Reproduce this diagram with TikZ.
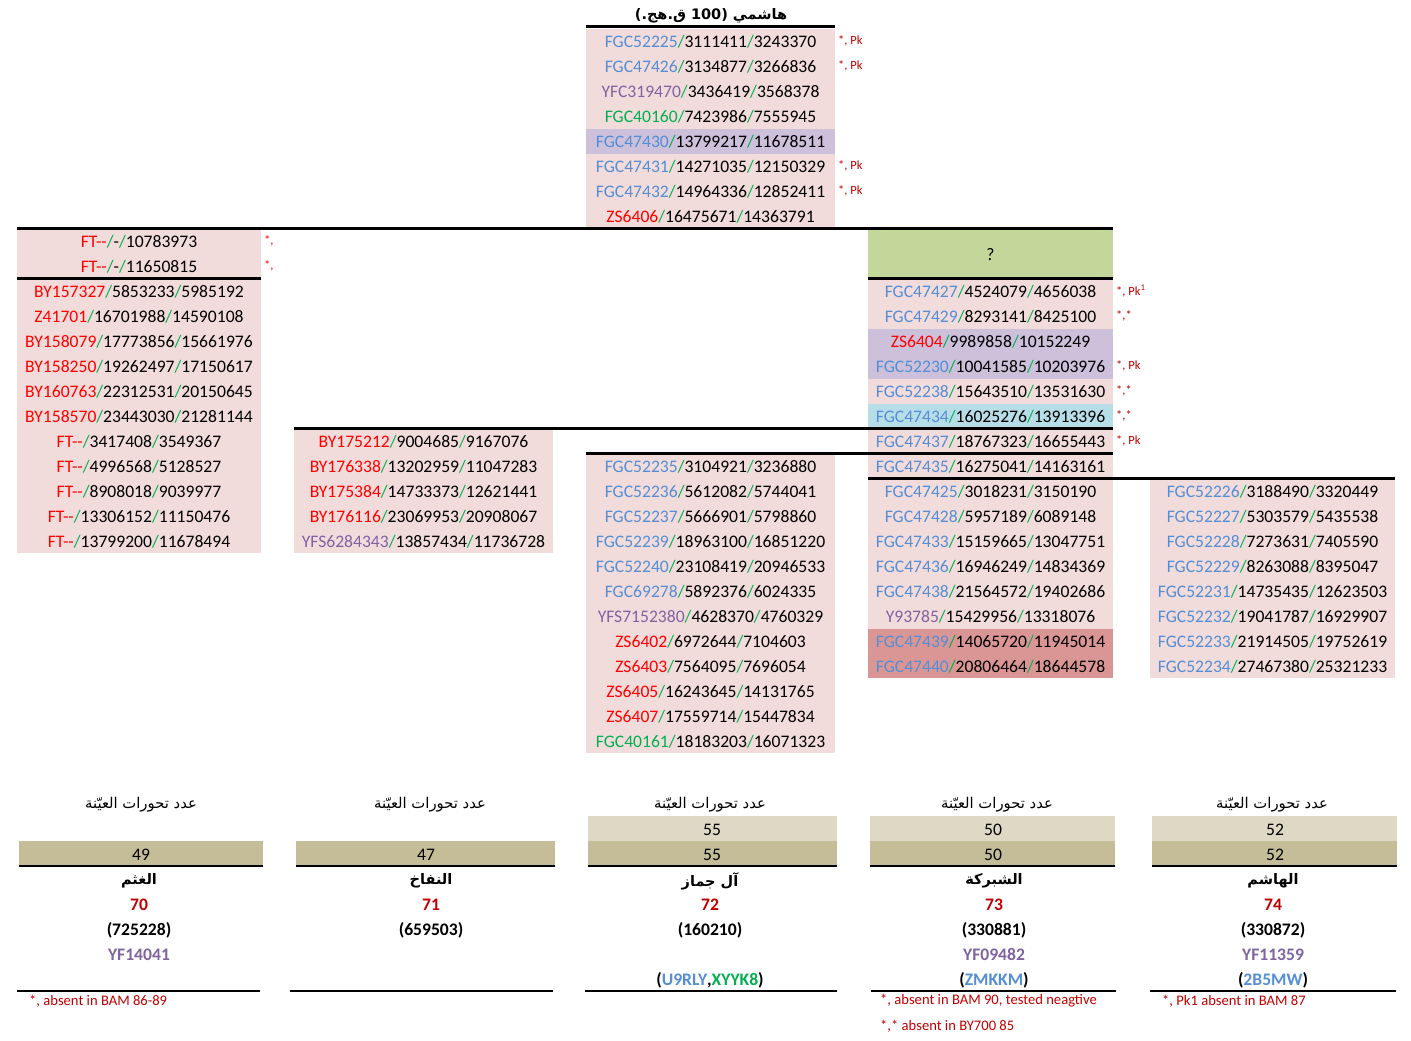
\documentclass[tikz,border=0pt]{standalone}
\usepackage{fontspec}
\setmainfont{Carlito}
\newfontfamily\arabicfont[Script=Arabic]{DejaVu Sans}
\TeXXeTstate=1
\definecolor{pinkc}{HTML}{F2DCDB}
\definecolor{lavc}{HTML}{CCC0DA}
\definecolor{bluec}{HTML}{B7DEE8}
\definecolor{salc}{HTML}{DA9694}
\definecolor{grnc}{HTML}{C4D79B}
\definecolor{tanl}{HTML}{DDD9C4}
\definecolor{tand}{HTML}{C4BD97}
\definecolor{fgb}{HTML}{558ED5}
\definecolor{pur}{HTML}{8064A2}
\definecolor{grn}{HTML}{00B050}
\definecolor{red}{HTML}{FF0000}
\definecolor{dred}{HTML}{C00000}
\newcommand\ent[4]{\textcolor{#1}{#2}\textcolor{grn}{/}#3\textcolor{grn}{/}#4}
\begin{document}
\begin{tikzpicture}[x=1pt,y=-1pt,
  row/.style={inner sep=0pt,yshift=-0.8pt,font=\fontsize{17.6}{20}\selectfont},
  note/.style={inner sep=0pt,anchor=west,text=dred,font=\fontsize{12.5}{14}\selectfont},
  foot/.style={inner sep=0pt,anchor=west,text=dred,font=\fontsize{14.6}{16}\selectfont},
  ar/.style={inner sep=0pt,yshift=-2pt,font=\arabicfont\fontsize{14.8}{17}\selectfont},
  arb/.style={inner sep=0pt,yshift=-2pt,font=\arabicfont\bfseries\fontsize{14.5}{17}\selectfont},
  bnum/.style={inner sep=0pt,yshift=-0.8pt,font=\bfseries\fontsize{17.6}{20}\selectfont},
  thick line/.style={line width=3pt},
  thin line/.style={line width=1.3pt}]
\useasboundingbox (0,0) rectangle (1411,1041);
% fills
\fill[pinkc] (586,29) rectangle (835,228);
\fill[lavc] (586,129) rectangle (835,154);
\fill[pinkc] (17,229) rectangle (261,553);
\fill[pinkc] (294,429) rectangle (553,553);
\fill[pinkc] (586,454) rectangle (835,753);
\fill[grnc] (868,229) rectangle (1113,278);
\fill[pinkc] (868,279) rectangle (1113,678);
\fill[lavc] (868,329) rectangle (1113,379);
\fill[bluec] (868,404) rectangle (1113,429);
\fill[salc] (868,629) rectangle (1113,678);
\fill[pinkc] (1150,479) rectangle (1395,678);
% bottom bars
\fill[tand] (19,841) rectangle (263,866);
\fill[tand] (296,841) rectangle (555,866);
\fill[tanl] (588,816) rectangle (837,841);
\fill[tand] (588,841) rectangle (837,866);
\fill[tanl] (870,816) rectangle (1115,841);
\fill[tand] (870,841) rectangle (1115,866);
\fill[tanl] (1152,816) rectangle (1397,841);
\fill[tand] (1152,841) rectangle (1397,866);
% title
\node[inner sep=0pt,yshift=-1pt,font=\arabicfont\bfseries\fontsize{14.5}{17}\selectfont] (title) at (711,15) {\beginR هاشمي (\beginL 100\endL{} ق.هج.)\endR};
% column C top
\foreach \c/\n/\a/\b [count=\i] in {fgb/FGC52225/3111411/3243370, fgb/FGC47426/3134877/3266836, pur/YFC319470/3436419/3568378, grn/FGC40160/7423986/7555945, fgb/FGC47430/13799217/11678511, fgb/FGC47431/14271035/12150329, fgb/FGC47432/14964336/12852411, red/ZS6406/16475671/14363791}
  \node[row] (ct\i) at ({710.5},{41+25*(\i-1)}) {\ent{\c}{\n}{\a}{\b}};
% column A
\foreach \c/\n/\a/\b [count=\i] in {red/FT-{}-/-/10783973, red/FT-{}-/-/11650815, red/BY157327/5853233/5985192, red/Z41701/16701988/14590108, red/BY158079/17773856/15661976, red/BY158250/19262497/17150617, red/BY160763/22312531/20150645, red/BY158570/23443030/21281144, red/FT-{}-/3417408/3549367, red/FT-{}-/4996568/5128527, red/FT-{}-/8908018/9039977, red/FT-{}-/13306152/11150476, red/FT-{}-/13799200/11678494}
  \node[row] (a\i) at ({139},{241+25*(\i-1)}) {\ent{\c}{\n}{\a}{\b}};
% column B
\foreach \c/\n/\a/\b [count=\i] in {red/BY175212/9004685/9167076, red/BY176338/13202959/11047283, red/BY175384/14733373/12621441, red/BY176116/23069953/20908067, pur/YFS6284343/13857434/11736728}
  \node[row] (b\i) at ({423.5},{441+25*(\i-1)}) {\ent{\c}{\n}{\a}{\b}};
% column C bottom
\foreach \c/\n/\a/\b [count=\i] in {fgb/FGC52235/3104921/3236880, fgb/FGC52236/5612082/5744041, fgb/FGC52237/5666901/5798860, fgb/FGC52239/18963100/16851220, fgb/FGC52240/23108419/20946533, fgb/FGC69278/5892376/6024335, pur/YFS7152380/4628370/4760329, red/ZS6402/6972644/7104603, red/ZS6403/7564095/7696054, red/ZS6405/16243645/14131765, red/ZS6407/17559714/15447834, grn/FGC40161/18183203/16071323}
  \node[row] (cb\i) at ({710.5},{466+25*(\i-1)}) {\ent{\c}{\n}{\a}{\b}};
% column D
\node[row] (dq) at (990.5,253.5) {?};
\foreach \c/\n/\a/\b [count=\i] in {fgb/FGC47427/4524079/4656038, fgb/FGC47429/8293141/8425100, red/ZS6404/9989858/10152249, fgb/FGC52230/10041585/10203976, fgb/FGC52238/15643510/13531630, fgb/FGC47434/16025276/13913396, fgb/FGC47437/18767323/16655443, fgb/FGC47435/16275041/14163161, fgb/FGC47425/3018231/3150190, fgb/FGC47428/5957189/6089148, fgb/FGC47433/15159665/13047751, fgb/FGC47436/16946249/14834369, fgb/FGC47438/21564572/19402686, pur/Y93785/15429956/13318076, fgb/FGC47439/14065720/11945014, fgb/FGC47440/20806464/18644578}
  \node[row] (d\i) at ({990.5},{291+25*(\i-1)}) {\ent{\c}{\n}{\a}{\b}};
% column E
\foreach \c/\n/\a/\b [count=\i] in {fgb/FGC52226/3188490/3320449, fgb/FGC52227/5303579/5435538, fgb/FGC52228/7273631/7405590, fgb/FGC52229/8263088/8395047, fgb/FGC52231/14735435/12623503, fgb/FGC52232/19041787/16929907, fgb/FGC52233/21914505/19752619, fgb/FGC52234/27467380/25321233}
  \node[row] (e\i) at ({1272.5},{491+25*(\i-1)}) {\ent{\c}{\n}{\a}{\b}};
% notes
\node[note] (nc1) at (838,41) {*, Pk};
\node[note] (nc2) at (838,66) {*, Pk};
\node[note] (nc6) at (838,166) {*, Pk};
\node[note] (nc7) at (838,191) {*, Pk};
\node[note,text=red] (na1) at (264,241) {*,};
\node[note,text=red] (na2) at (264,266) {*,};
\node[note] (nd1) at (1116,291) {*, Pk\textsuperscript{1}};
\node[note] (nd2) at (1116,316) {*,*};
\node[note] (nd4) at (1116,366) {*, Pk};
\node[note] (nd5) at (1116,391) {*,*};
\node[note] (nd6) at (1116,416) {*,*};
\node[note] (nd7) at (1116,441) {*, Pk};
% thick lines
\draw[thick line] (586,27) -- (835,27);
\draw[thick line] (17,228) -- (1113,228);
\draw[thick line] (17,278) -- (261,278);
\draw[thick line] (868,278) -- (1113,278);
\draw[thick line] (294,428) -- (1113,428);
\draw[thick line] (586,453) -- (1113,453);
\draw[thick line] (868,478) -- (1395,478);
% bottom headers
\node[ar] (hA) at (141,803) {\beginR عدد تحورات العيّنة\endR};
\node[ar] (hB) at (430,803) {\beginR عدد تحورات العيّنة\endR};
\node[ar] (hC) at (710,803) {\beginR عدد تحورات العيّنة\endR};
\node[ar] (hD) at (997,803) {\beginR عدد تحورات العيّنة\endR};
\node[ar] (hE) at (1272,803) {\beginR عدد تحورات العيّنة\endR};
\node[row] (cC1) at (712,829) {55};
\node[row] (cD1) at (993,829) {50};
\node[row] (cE1) at (1275,829) {52};
\node[row] (cA2) at (141,854) {49};
\node[row] (cB2) at (426,854) {47};
\node[row] (cC2) at (712,854) {55};
\node[row] (cD2) at (993,854) {50};
\node[row] (cE2) at (1275,854) {52};
\draw[thin line] (19,866) -- (263,866);
\draw[thin line] (296,866) -- (555,866);
\draw[thin line] (588,866) -- (837,866);
\draw[thin line] (870,866) -- (1115,866);
\draw[thin line] (1152,866) -- (1397,866);
\node[arb] (nA) at (139,879) {\beginR الغثم\endR};
\node[arb] (nB) at (431,879) {\beginR النفاخ\endR};
\node[arb] (nC) at (710,879) {\beginR آل جماز\endR};
\node[arb] (nD) at (994,879) {\beginR الشبركة\endR};
\node[arb] (nE) at (1273,879) {\beginR الهاشم\endR};
\node[bnum,text=dred] (kA) at (139,904) {70};
\node[bnum,text=dred] (kB) at (431,904) {71};
\node[bnum,text=dred] (kC) at (710,904) {72};
\node[bnum,text=dred] (kD) at (994,904) {73};
\node[bnum,text=dred] (kE) at (1273,904) {74};
\node[bnum] (pA) at (139,929) {(725228)};
\node[bnum] (pB) at (431,929) {(659503)};
\node[bnum] (pC) at (710,929) {(160210)};
\node[bnum] (pD) at (994,929) {(330881)};
\node[bnum] (pE) at (1273,929) {(330872)};
\node[bnum,text=pur] (yA) at (139,954) {YF14041};
\node[bnum,text=pur] (yD) at (994,954) {YF09482};
\node[bnum,text=pur] (yE) at (1273,954) {YF11359};
\node[bnum] (zC) at (710,979) {(\textcolor{fgb}{U9RLY},\textcolor{grn}{XYYK8})};
\node[bnum] (zD) at (994,979) {(\textcolor{fgb}{ZMKKM})};
\node[bnum] (zE) at (1273,979) {(\textcolor{fgb}{2B5MW})};
\draw[thin line] (17,991) -- (260,991);
\draw[thin line] (290,991) -- (553,991);
\draw[thin line] (585,991) -- (837,991);
\draw[thin line] (871,991) -- (1116,991);
\draw[thin line] (1150,991) -- (1396,991);
\node[foot] (fA) at (29,1001) {*, absent in BAM 86-89};
\node[foot] (fD1) at (880,1001) {*, absent in BAM 90, tested neagtive};
\node[foot] (fD2) at (880,1026) {*,* absent in BY700 85};
\node[foot] (fE) at (1162,1001) {*, Pk1 absent in BAM 87};
\end{tikzpicture}
\end{document}
